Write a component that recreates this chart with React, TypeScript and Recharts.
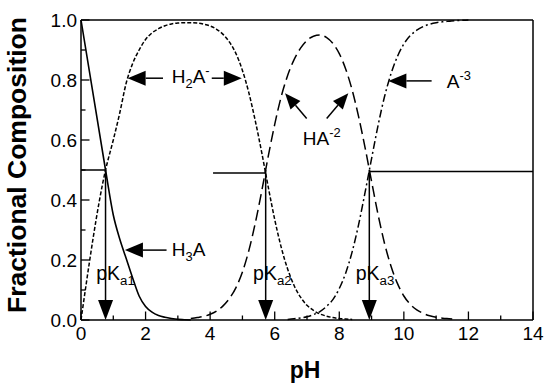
import React from 'react';
import { LineChart, Line, XAxis, YAxis, ReferenceLine, ReferenceDot } from 'recharts';

const FONT = '"Liberation Sans", Arial, Helvetica, sans-serif';

const h3aPH = [0, 0.76, 1.0, 1.2, 1.4, 1.6, 1.8, 2.0, 2.2, 2.4, 2.6, 2.8, 3.0, 3.2, 3.4];
const h3aFrac = [1.0, 0.5, 0.35, 0.27, 0.205, 0.14, 0.08, 0.045, 0.026, 0.015, 0.009, 0.005, 0.002, 0.001, 0.0];

const h2aPH = [0, 0.76, 1.0, 1.2, 1.4, 1.6, 1.8, 2.0, 2.2, 2.4, 2.6, 2.8, 3.0, 3.2, 3.4, 3.6, 3.8, 4.0, 4.2, 4.4, 4.6, 4.8, 5.0, 5.2, 5.4, 5.6, 5.8, 6.0, 6.2, 6.4, 6.6, 6.8, 7.0, 7.2, 7.4, 7.6, 7.8, 8.0, 8.2, 8.4];
const h2aFrac = [0, 0.5, 0.6, 0.69, 0.79, 0.855, 0.9, 0.935, 0.957, 0.971, 0.981, 0.987, 0.99, 0.991, 0.991, 0.99, 0.986, 0.98, 0.969, 0.952, 0.926, 0.888, 0.832, 0.757, 0.663, 0.557, 0.443, 0.335, 0.243, 0.17, 0.115, 0.076, 0.049, 0.032, 0.02, 0.013, 0.008, 0.005, 0.003, 0.002];

const haPH = [3.4, 3.6, 3.8, 4.0, 4.2, 4.4, 4.6, 4.8, 5.0, 5.2, 5.4, 5.6, 5.8, 6.0, 6.2, 6.4, 6.6, 6.8, 7.0, 7.2, 7.4, 7.6, 7.8, 8.0, 8.2, 8.4, 8.6, 8.8, 9.0, 9.2, 9.4, 9.6, 9.8, 10.0, 10.2, 10.4, 10.6, 10.8, 11.0, 11.2, 11.4, 11.6];
const haFrac = [0.005, 0.008, 0.012, 0.019, 0.03, 0.047, 0.072, 0.108, 0.16, 0.232, 0.324, 0.431, 0.546, 0.652, 0.744, 0.815, 0.868, 0.906, 0.932, 0.946, 0.95, 0.942, 0.922, 0.888, 0.836, 0.766, 0.677, 0.574, 0.462, 0.352, 0.256, 0.18, 0.122, 0.08, 0.052, 0.034, 0.022, 0.014, 0.009, 0.006, 0.004, 0.002];

const a3PH = [6.4, 6.6, 6.8, 7.0, 7.2, 7.4, 7.6, 7.8, 8.0, 8.2, 8.4, 8.6, 8.8, 9.0, 9.2, 9.4, 9.6, 9.8, 10.0, 10.2, 10.4, 10.6, 10.8, 11.0, 11.2, 11.4, 11.6, 11.8, 12.0];
const a3Frac = [0.002, 0.004, 0.007, 0.011, 0.018, 0.028, 0.045, 0.068, 0.105, 0.157, 0.228, 0.319, 0.426, 0.538, 0.648, 0.744, 0.82, 0.878, 0.92, 0.948, 0.966, 0.978, 0.986, 0.991, 0.994, 0.996, 0.998, 0.999, 1.0];

const xTicks = [0, 1, 2, 3, 4, 5, 6, 7, 8, 9, 10, 11, 12, 13, 14];
const yTicks = [0, 0.1, 0.2, 0.3, 0.4, 0.5, 0.6, 0.7, 0.8, 0.9, 1.0];

const pKaValues = [0.76, 5.72, 8.93];
const pKaSubs = ['a1', 'a2', 'a3'];
const pKaLabelX = [0.47, 5.33, 8.51];
const pKaLabelY = 0.133;

// half-way lines
const halfLines = [
  [0, 0.76, 0.5],
  [4.09, 5.72, 0.49],
  [8.93, 14, 0.495],
];

// pointer arrows: [tailX, tailY, tipX, tipY]
const pointers = [
  [2.65, 0.233, 1.36, 0.233],
  [2.54, 0.806, 1.445, 0.806],
  [4.05, 0.806, 4.98, 0.806],
  [6.99, 0.672, 6.32, 0.756],
  [7.61, 0.672, 8.28, 0.756],
  [10.86, 0.797, 9.52, 0.797],
];

type Part = [string, ('sub' | 'sup')?];
const speciesLabels: { x: number; y: number; parts: Part[] }[] = [
  { x: 2.81, y: 0.213, parts: [['H'], ['3', 'sub'], ['A']] },
  { x: 2.81, y: 0.79, parts: [['H'], ['2', 'sub'], ['A'], ['-', 'sup']] },
  { x: 6.87, y: 0.583, parts: [['HA'], ['-2', 'sup']] },
  { x: 11.33, y: 0.773, parts: [['A'], ['-3', 'sup']] },
];

const toRows = (xs: number[], ys: number[]) => xs.map((x, i) => ({ pH: x, f: ys[i] }));

function arrowShape(head: number, half: number) {
  return (p: any) => {
    const { x1, y1, x2, y2 } = p;
    const dx = x2 - x1;
    const dy = y2 - y1;
    const len = Math.hypot(dx, dy) || 1;
    const ux = dx / len;
    const uy = dy / len;
    const bx = x2 - ux * head;
    const by = y2 - uy * head;
    return (
      <g>
        <line x1={x1} y1={y1} x2={bx} y2={by} stroke="#000" strokeWidth={1.5} />
        <polygon
          points={`${x2},${y2} ${bx - uy * half},${by + ux * half} ${bx + uy * half},${by - ux * half}`}
          fill="#000"
        />
      </g>
    );
  };
}

function richText(parts: Part[], size: number) {
  return (p: any) => {
    let shift = 0;
    const spans = parts.map(([t, kind], i) => {
      const target = kind === 'sub' ? 5 : kind === 'sup' ? -8 : 0;
      const dy = target - shift;
      shift = target;
      return (
        <tspan key={i} dy={dy} fontSize={kind ? size * 0.68 : size}>
          {t}
        </tspan>
      );
    });
    return (
      <text x={p.cx} y={p.cy} fontFamily={FONT} fontSize={size} fill="#000">
        {spans}
      </text>
    );
  };
}

const BottomTick = (p: any) => {
  const v = p.payload.value;
  const major = v % 2 === 0;
  return (
    <g>
      <line x1={p.x} x2={p.x} y1={p.y} y2={p.y - (major ? 8.5 : 4.5)} stroke="#000" strokeWidth={1.3} />
      {major && (
        <text x={p.x} y={p.y + 20} textAnchor="middle" fontSize={19} fontFamily={FONT} fill="#000">
          {v}
        </text>
      )}
    </g>
  );
};

const TopTick = (p: any) => (
  <line x1={p.x} x2={p.x} y1={p.y} y2={p.y + 4.5} stroke="#000" strokeWidth={1.3} />
);

const LeftTick = (p: any) => {
  const v = p.payload.value;
  const major = Math.round(v * 10) % 2 === 0;
  return (
    <g>
      <line x1={p.x} x2={p.x + (major ? 8.5 : 4.5)} y1={p.y} y2={p.y} stroke="#000" strokeWidth={1.3} />
      {major && (
        <text x={p.x - 4} y={p.y} dy={6.8} textAnchor="end" fontSize={19} fontFamily={FONT} fill="#000">
          {v.toFixed(1)}
        </text>
      )}
    </g>
  );
};

const RightTick = (p: any) => {
  const v = p.payload.value;
  const major = Math.round(v * 10) % 2 === 0;
  return <line x1={p.x} x2={p.x - (major ? 8.5 : 4.5)} y1={p.y} y2={p.y} stroke="#000" strokeWidth={1.3} />;
};

export default function App() {
  const axisLine = { stroke: '#000', strokeWidth: 1.5 };
  return (
    <div style={{ position: 'absolute', left: 0, top: 0, width: 545, height: 384, background: '#fff' }}>
      <LineChart width={545} height={384} margin={{ top: 19, right: 11, bottom: 63, left: 80 }}>
        <XAxis
          dataKey="pH"
          type="number"
          domain={[0, 14]}
          ticks={xTicks}
          interval={0}
          height={1}
          tickSize={0}
          tickMargin={0}
          tickLine={false}
          axisLine={axisLine}
          tick={BottomTick}
          allowDuplicatedCategory={false}
        />
        <XAxis
          xAxisId="top"
          orientation="top"
          dataKey="pH"
          type="number"
          domain={[0, 14]}
          ticks={xTicks}
          interval={0}
          height={1}
          tickSize={0}
          tickMargin={0}
          tickLine={false}
          axisLine={axisLine}
          tick={TopTick}
          allowDuplicatedCategory={false}
        />
        <YAxis
          type="number"
          domain={[0, 1]}
          ticks={yTicks}
          interval={0}
          width={1}
          tickSize={0}
          tickMargin={0}
          tickLine={false}
          axisLine={axisLine}
          tick={LeftTick}
        />
        <YAxis
          yAxisId="right"
          orientation="right"
          type="number"
          domain={[0, 1]}
          ticks={yTicks}
          interval={0}
          width={1}
          tickSize={0}
          tickMargin={0}
          tickLine={false}
          axisLine={axisLine}
          tick={RightTick}
        />

        <Line data={toRows(h3aPH, h3aFrac)} dataKey="f" type="monotone" stroke="#000" strokeWidth={1.6} dot={false} isAnimationActive={false} />
        <Line data={toRows(h2aPH, h2aFrac)} dataKey="f" type="monotone" stroke="#000" strokeWidth={1.5} strokeDasharray="4 2" dot={false} isAnimationActive={false} />
        <Line data={toRows(haPH, haFrac)} dataKey="f" type="monotone" stroke="#000" strokeWidth={1.5} strokeDasharray="11 5" dot={false} isAnimationActive={false} />
        <Line data={toRows(a3PH, a3Frac)} dataKey="f" type="monotone" stroke="#000" strokeWidth={1.5} strokeDasharray="8 3 2 3" dot={false} isAnimationActive={false} />

        {halfLines.map(([a, b, y], i) => (
          <ReferenceLine
            key={`h${i}`}
            segment={[{ x: a, y }, { x: b, y }]}
            stroke="#000"
            strokeWidth={1.5}
            ifOverflow="visible"
          />
        ))}

        {pKaValues.map((v, i) => (
          <ReferenceLine
            key={`pk${i}`}
            segment={[{ x: v, y: 0.5 }, { x: v, y: 0 }]}
            shape={arrowShape(20, 7.5)}
            ifOverflow="visible"
          />
        ))}

        {pointers.map(([tx, ty, hx, hy], i) => (
          <ReferenceLine
            key={`pt${i}`}
            segment={[{ x: tx, y: ty }, { x: hx, y: hy }]}
            shape={arrowShape(i >= 3 && i <= 4 ? 16 : 18, i >= 3 && i <= 4 ? 6.5 : 7.5)}
            ifOverflow="visible"
          />
        ))}

        {pKaValues.map((v, i) => (
          <ReferenceDot
            key={`pkl${i}`}
            x={pKaLabelX[i]}
            y={pKaLabelY}
            r={0}
            ifOverflow="visible"
            shape={richText([['pK'], [pKaSubs[i], 'sub']], 19.5)}
          />
        ))}

        {speciesLabels.map((s, i) => (
          <ReferenceDot key={`sl${i}`} x={s.x} y={s.y} r={0} ifOverflow="visible" shape={richText(s.parts, 19)} />
        ))}
      </LineChart>
      <svg width={545} height={384} style={{ position: 'absolute', left: 0, top: 0, pointerEvents: 'none' }}>
        <text x={305} y={378} textAnchor="middle" fontFamily={FONT} fontWeight="bold" fontSize={23} fill="#000">
          pH
        </text>
        <text
          x={0}
          y={0}
          transform="translate(26,165) rotate(-90)"
          textAnchor="middle"
          fontFamily={FONT}
          fontWeight="bold"
          fontSize={26.5}
          fill="#000"
        >
          Fractional Composition
        </text>
      </svg>
    </div>
  );
}
